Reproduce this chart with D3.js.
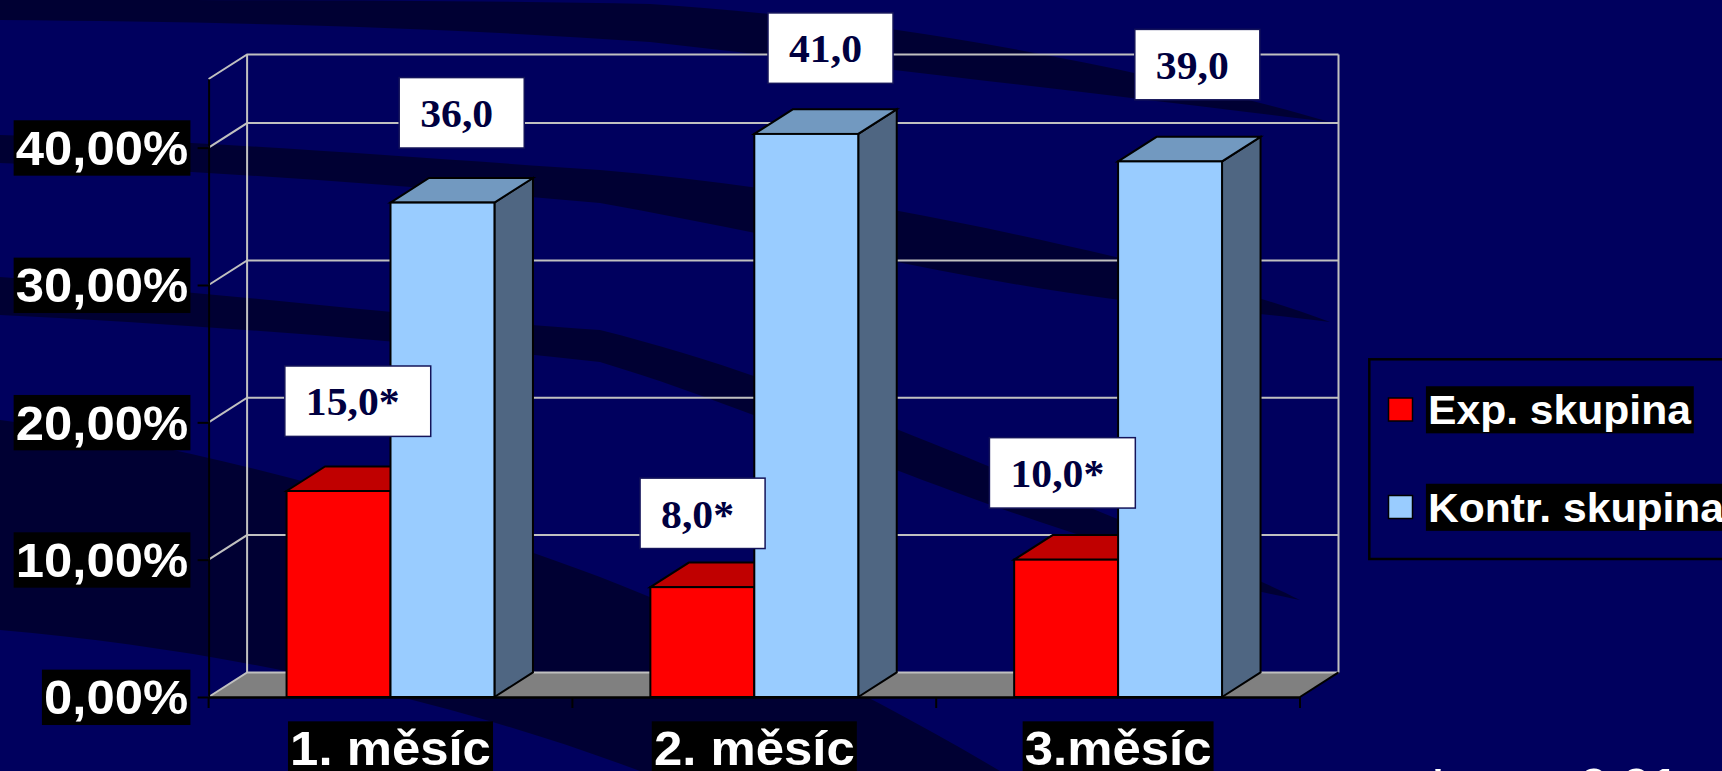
<!DOCTYPE html>
<html>
<head>
<meta charset="utf-8">
<script src="https://cdn.jsdelivr.net/npm/d3@7"></script>
<style>
  html, body { margin: 0; padding: 0; background: #00005e; overflow: hidden; }
  svg { display: block; }
</style>
</head>
<body>
<svg id="chart" width="1722" height="771"></svg>
<script>
// ---- data ----
const categories = ["1. měsíc", "2. měsíc", "3.měsíc"];
const seriesNames = ["Exp. skupina", "Kontr. skupina"];
const expValues = [15, 8, 10];      // %
const kontrValues = [36, 41, 39];   // %
const expMarks = ["*", "*", "*"];
const kontrMarks = ["", "", ""];
const yTicks = [0, 10, 20, 30, 40];
const yMax = 45;
const footnote = "* p < 0,01";

// hand-placed value label nudges, px [dx, dy]
const expLabelShift = [[0, 0], [-19, 16], [-23, 3]];
const kontrLabelShift = [[0, 0], [5, 4], [8, -7]];

// ---- layout & style ----
const W = 1722, H = 771;
const plot = { left: 208.6, right: 1300, top: 79, bottom: 697 };
const depth = { dx: 38.5, dy: -24.6 };
const SANS = "'Liberation Sans', Arial, sans-serif";
const SERIF = "'Liberation Serif', 'Times New Roman', serif";
const SX = 1.06;  // horizontal stretch of the slide text
const palette = {
  "Exp. skupina":   { front: "#ff0000", top: "#c00000", side: "#800000" },
  "Kontr. skupina": { front: "#99ccff", top: "#7299c0", side: "#4f6682" }
};

const cz = d3.formatLocale({ decimal: ",", thousands: "\u00a0", grouping: [3], currency: ["", "\u00a0Kč"] });
const fmtTick = cz.format(".2%");
const fmtVal = cz.format(".1f");

const series = [
  { name: seriesNames[0], values: expValues, marks: expMarks, shift: expLabelShift },
  { name: seriesNames[1], values: kontrValues, marks: kontrMarks, shift: kontrLabelShift }
];

const y = d3.scaleLinear().domain([0, yMax]).range([plot.bottom, plot.top]);
const x = d3.scaleBand().domain(categories).range([plot.left, plot.right]);
const xs = d3.scaleBand().domain(seriesNames).range([0, x.bandwidth()]).paddingOuter(0.75);

const svg = d3.select("#chart");

// ---- slide background with dark swooshes ----
svg.append("rect").attr("width", W).attr("height", H).attr("fill", "#00005e");
const swooshes = [
  "M0,0 C250,0 450,0 650,4 C900,20 1150,70 1330,122 C1150,100 900,70 650,42 C450,28 250,22 0,20 Z",
  "M0,135 C200,140 420,158 600,170 C780,185 960,220 1120,258 C1200,280 1270,300 1330,322 C1230,310 1170,305 1120,300 C960,280 780,235 600,203 C400,185 200,170 0,163 Z",
  "M0,277 C200,290 420,318 600,330 C760,370 900,430 1120,520 C1200,555 1260,580 1300,600 C1200,580 1160,565 1120,548 C900,480 760,410 600,362 C400,340 200,325 0,315 Z",
  "M0,420 C200,445 420,510 600,577 C760,640 880,700 1000,771 L640,771 C450,700 230,650 0,630 Z"
];
svg.append("g").selectAll("path").data(swooshes).join("path")
  .attr("d", d => d).attr("fill", "#000018").attr("opacity", 0.6);

// ---- 3D frame: floor, walls and gridlines ----
const frame = svg.append("g");
const y0 = y(0);
frame.append("path")
  .attr("d", `M${plot.left},${y0} L${plot.right},${y0} L${plot.right + depth.dx},${y0 + depth.dy} L${plot.left + depth.dx},${y0 + depth.dy} Z`)
  .attr("fill", "#808080");

const gridColor = "#c0c0c0";
const bx0 = plot.left + depth.dx, bx1 = plot.right + depth.dx;
frame.selectAll("path.grid").data(yTicks.concat([yMax])).join("path")
  .attr("class", "grid")
  .attr("d", v => `M${plot.left},${y(v)} L${bx0},${y(v) + depth.dy} H${bx1}`)
  .attr("fill", "none").attr("stroke", gridColor).attr("stroke-width", 2);
frame.append("path")
  .attr("d", `M${bx0},${y(yMax) + depth.dy} V${y0 + depth.dy} M${bx1},${y(yMax) + depth.dy} V${y0 + depth.dy}`)
  .attr("fill", "none").attr("stroke", gridColor).attr("stroke-width", 2);
frame.append("path")
  .attr("d", `M${plot.right},${y0} L${bx1},${y0 + depth.dy}`)
  .attr("stroke", "#000").attr("stroke-width", 2);

// ---- value axis ----
const gy = svg.append("g").attr("transform", `translate(${plot.left},0)`)
  .call(d3.axisLeft(y).tickValues(yTicks).tickSize(11).tickSizeOuter(0).tickPadding(0)
    .tickFormat(d => fmtTick(d / 100)));
gy.select(".domain").attr("stroke", "#000").attr("stroke-width", 2);
gy.selectAll(".tick line").attr("stroke", "#000").attr("stroke-width", 2);
gy.selectAll(".tick text")
  .attr("x", 0).attr("dy", "0.35em")
  .attr("transform", `translate(-20.3,0) scale(${SX},1)`)
  .attr("text-anchor", "end")
  .attr("fill", "#fff")
  .style("font", `bold 48px ${SANS}`);
gy.selectAll(".tick").each(function () {
  const t = d3.select(this).select("text");
  const b = t.node().getBBox();
  d3.select(this).insert("rect", "text")
    .attr("x", b.x - 2).attr("y", b.y - 1)
    .attr("width", b.width + 4).attr("height", b.height + 2)
    .attr("transform", t.attr("transform"))
    .attr("fill", "#000");
});

// ---- 3D columns ----
const bars = [];
categories.forEach((c, i) => {
  series.forEach(s => {
    bars.push({ cat: c, i, s, v: s.values[i] });
  });
});

const gb = svg.append("g");
bars.forEach(b => {
  const x0 = x(b.cat) + xs(b.s.name);
  const w = xs.bandwidth();
  const yt = y(b.v);
  const col = palette[b.s.name];
  const g = gb.append("g")
    .attr("stroke", "#000").attr("stroke-width", 2).attr("stroke-linejoin", "miter");
  g.append("path")
    .attr("d", `M${x0 + w},${yt} L${x0 + w + depth.dx},${yt + depth.dy} L${x0 + w + depth.dx},${y0 + depth.dy} L${x0 + w},${y0} Z`)
    .attr("fill", col.side);
  g.append("path")
    .attr("d", `M${x0},${yt} L${x0 + depth.dx},${yt + depth.dy} L${x0 + w + depth.dx},${yt + depth.dy} L${x0 + w},${yt} Z`)
    .attr("fill", col.top);
  g.append("rect")
    .attr("x", x0).attr("y", yt).attr("width", w).attr("height", y0 - yt)
    .attr("fill", col.front);
});

// ---- category axis ----
const gx = svg.append("g").attr("transform", `translate(0,${y0})`)
  .call(d3.axisBottom(x).tickSize(0).tickSizeOuter(0).tickPadding(0));
gx.select(".domain").attr("stroke", "#000").attr("stroke-width", 2.5);
gx.selectAll(".tick text")
  .attr("x", 0).attr("y", 68).attr("dy", 0)
  .attr("transform", `scale(${SX},1)`)
  .attr("text-anchor", "middle")
  .attr("fill", "#fff")
  .style("font", `bold 48px ${SANS}`);
gx.selectAll(".tick").each(function () {
  const t = d3.select(this).select("text");
  const b = t.node().getBBox();
  d3.select(this).insert("rect", "text")
    .attr("x", b.x - 2).attr("y", b.y)
    .attr("width", b.width + 4).attr("height", b.height + 4)
    .attr("transform", t.attr("transform"))
    .attr("fill", "#000");
});
const edges = categories.map(c => x(c)).concat([x.range()[1]]);
gx.selectAll("line.edge").data(edges).join("line")
  .attr("class", "edge")
  .attr("x1", d => d).attr("x2", d => d).attr("y1", 0).attr("y2", 11)
  .attr("stroke", "#000").attr("stroke-width", 2);

// ---- value labels ----
const gl = svg.append("g");
bars.forEach(b => {
  const x0 = x(b.cat) + xs(b.s.name);
  const w = xs.bandwidth();
  const yt = y(b.v);
  const sh = b.s.shift[b.i];
  const g = gl.append("g");
  const t = g.append("text")
    .text(fmtVal(b.v) + b.s.marks[b.i])
    .attr("fill", "#00003f")
    .style("font", `bold 39px ${SERIF}`);
  const tw = t.node().getComputedTextLength() * 1.07;
  const bw = tw + 52, bh = 70.4;
  const cx = x0 + w / 2 + depth.dx / 2 + sh[0];
  const bottom = yt + depth.dy - 30 + sh[1];
  const left = cx - bw / 2, top = bottom - bh;
  g.insert("rect", "text")
    .attr("x", left).attr("y", top).attr("width", bw).attr("height", bh)
    .attr("fill", "#fff").attr("stroke", "#14145a").attr("stroke-width", 1.5);
  t.attr("transform", `translate(${left + 21},${top + 49.4}) scale(1.07,1)`);
});

// ---- legend ----
const lg = svg.append("g");
lg.append("rect")
  .attr("x", 1369.3).attr("y", 359.3).attr("width", 420).attr("height", 199.7)
  .attr("fill", "none").attr("stroke", "#000").attr("stroke-width", 2.5);
const legendRows = [424, 521.5];
seriesNames.forEach((n, k) => {
  const base = legendRows[k];
  const item = lg.append("g");
  item.append("rect")
    .attr("x", 1388.5).attr("y", base - 26).attr("width", 24).attr("height", 23)
    .attr("fill", palette[n].front).attr("stroke", "#000").attr("stroke-width", 1.5);
  const t = item.append("text").text(n)
    .attr("transform", `translate(1428,${base}) scale(1.04,1)`)
    .attr("fill", "#fff")
    .style("font", `bold 41px ${SANS}`);
  const bb = t.node().getBBox();
  item.insert("rect", "text")
    .attr("x", bb.x - 2).attr("y", bb.y - 0.5).attr("width", bb.width + 4).attr("height", bb.height + 1)
    .attr("transform", t.attr("transform"))
    .attr("fill", "#000");
});

// ---- footnote (runs off the bottom edge) ----
svg.append("text").text(footnote)
  .attr("transform", `translate(1428,802) scale(${SX},1)`)
  .attr("fill", "#fff")
  .style("font", `bold 48px ${SANS}`)
  .style("word-spacing", "9px")
  .style("white-space", "pre");
</script>
</body>
</html>
